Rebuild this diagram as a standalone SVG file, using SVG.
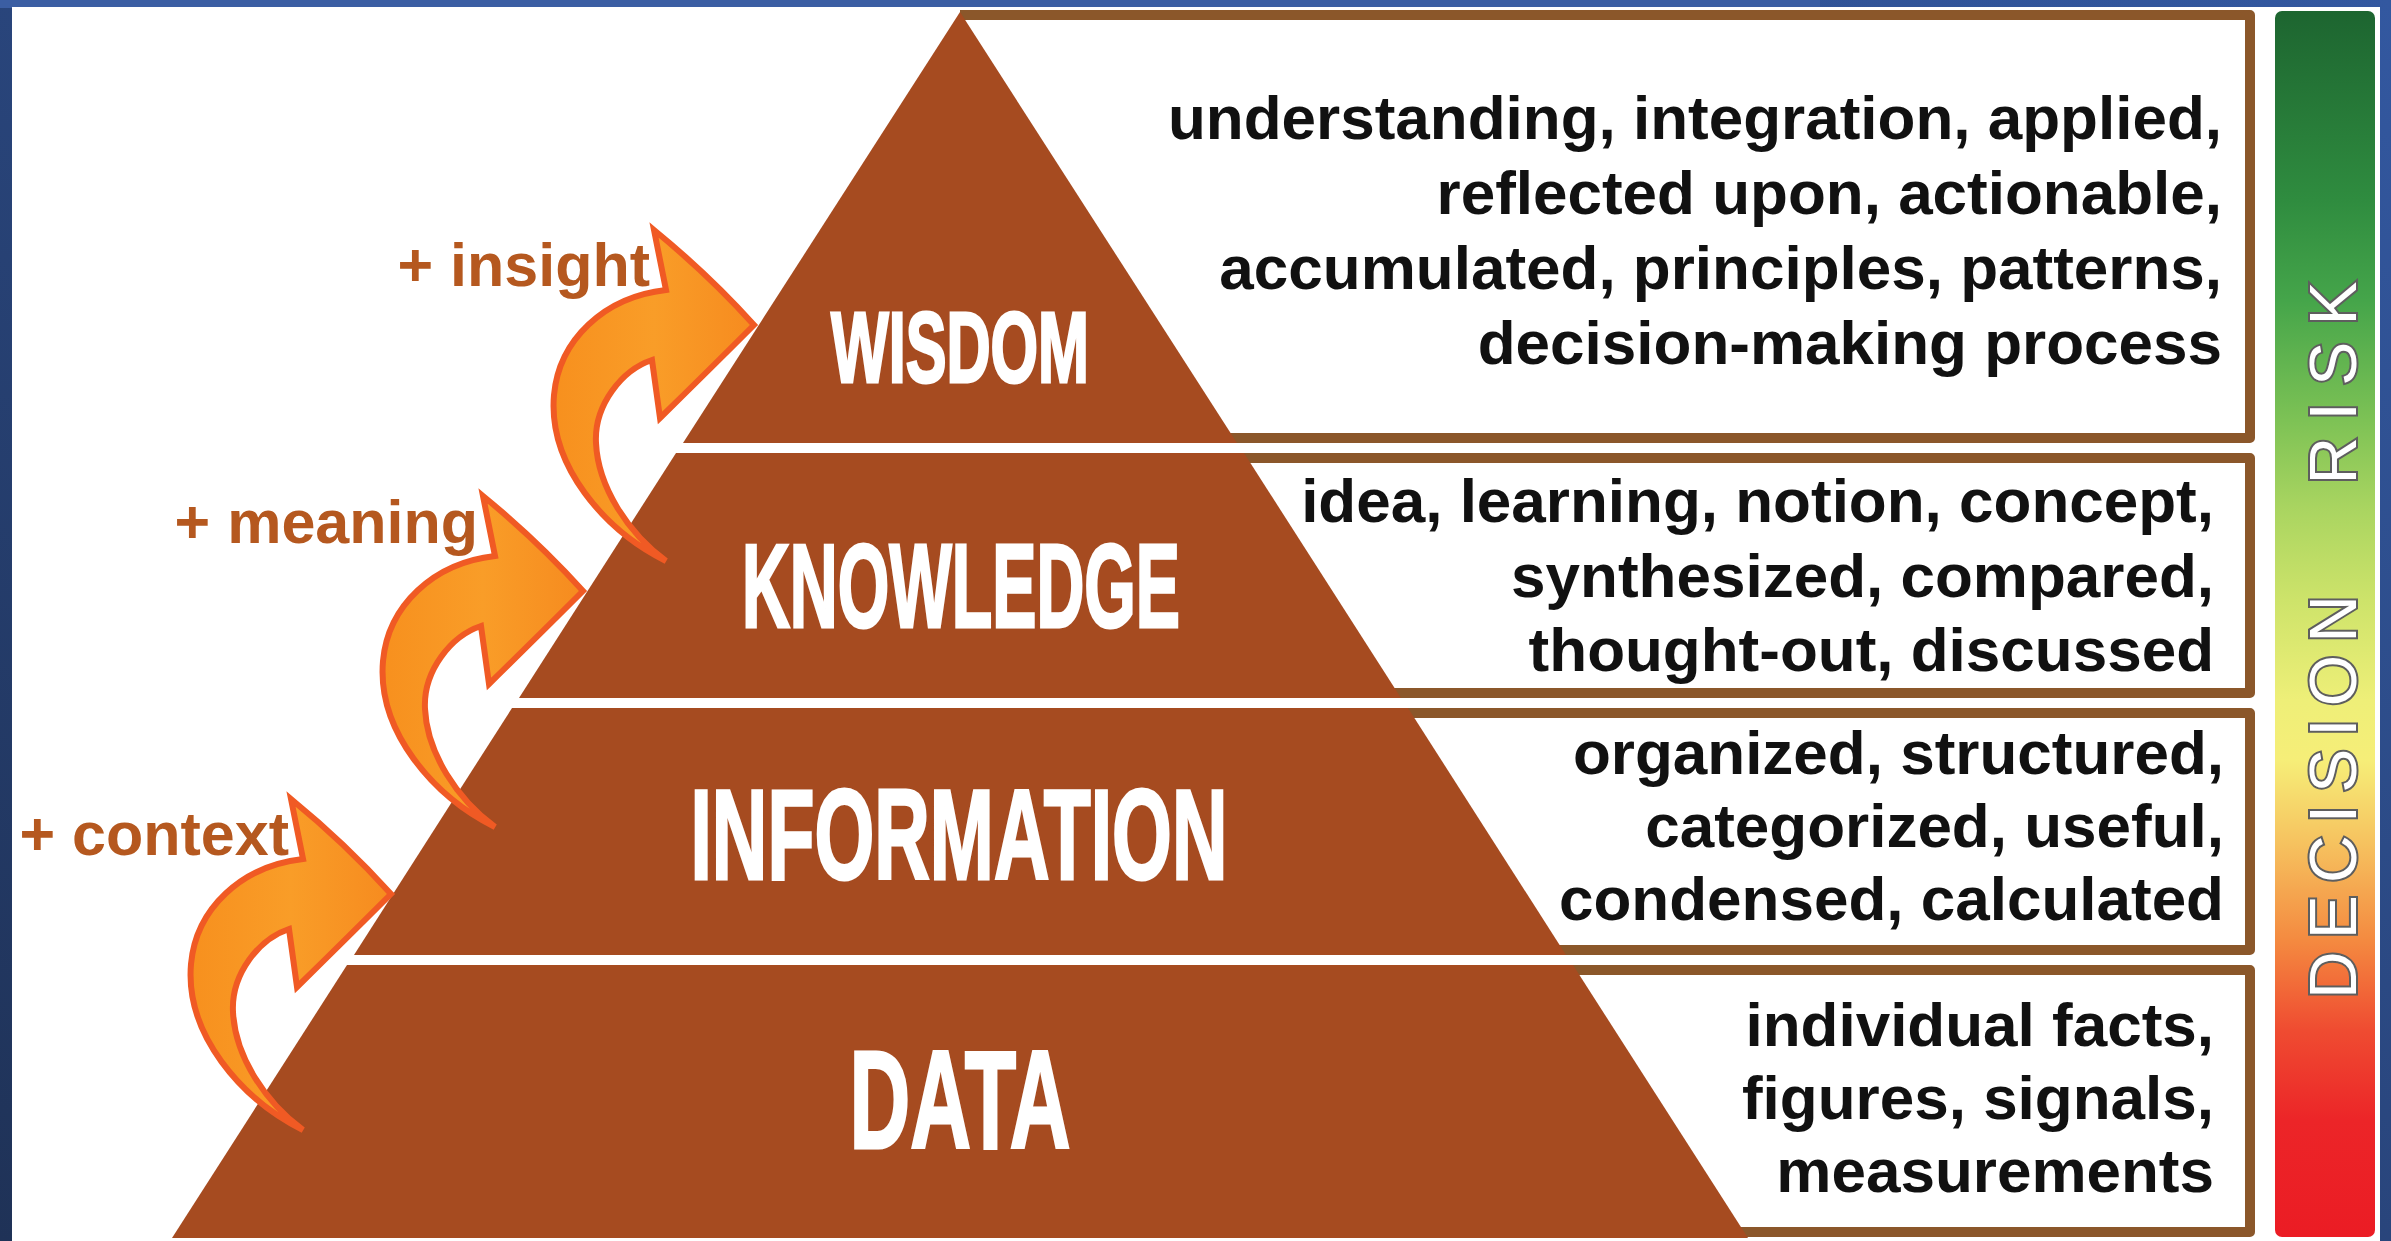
<svg xmlns="http://www.w3.org/2000/svg" xmlns:xlink="http://www.w3.org/1999/xlink" width="2391" height="1241" viewBox="0 0 2391 1241">
  <defs>
    <linearGradient id="bg" x1="1" y1="0" x2="0" y2="1">
      <stop offset="0" stop-color="#3358a0"/>
      <stop offset="1" stop-color="#1f3257"/>
    </linearGradient>
    <linearGradient id="risk" x1="0" y1="0" x2="0" y2="1">
      <stop offset="0" stop-color="#1d6530"/>
      <stop offset="0.154" stop-color="#2f8c3f"/>
      <stop offset="0.236" stop-color="#45a54a"/>
      <stop offset="0.334" stop-color="#7dc255"/>
      <stop offset="0.403" stop-color="#a8d460"/>
      <stop offset="0.48" stop-color="#cde36a"/>
      <stop offset="0.562" stop-color="#eeef78"/>
      <stop offset="0.611" stop-color="#f6ee78"/>
      <stop offset="0.676" stop-color="#f6c460"/>
      <stop offset="0.758" stop-color="#f48a40"/>
      <stop offset="0.831" stop-color="#ef4c31"/>
      <stop offset="0.905" stop-color="#ec2528"/>
      <stop offset="1" stop-color="#eb1c24"/>
    </linearGradient>
    <linearGradient id="arrowFill" x1="0" y1="0" x2="1" y2="0">
      <stop offset="0" stop-color="#f7901e"/>
      <stop offset="0.5" stop-color="#f99d28"/>
      <stop offset="1" stop-color="#f68b1f"/>
    </linearGradient>
    <path id="arw" d="M -88,236 C -150,205 -206,140 -200,70 C -195,15 -150,-28 -88,-35 L -100,-95 Q -45,-50 0,0 Q -45,45 -94,93 L -102,35 C -132,45 -160,80 -158,118 C -156,162 -126,208 -88,236 Z"/>
  </defs>
  <style>
    .layer { fill: #a64b20; }
    .panel { fill: #ffffff; stroke: #8b572a; stroke-width: 10; stroke-linejoin: round; }
    .title { font-family: "Liberation Sans", Arial, sans-serif; font-weight: bold; fill: #ffffff; stroke: #ffffff; stroke-width: 3; text-anchor: middle; }
    .desc { font-family: "Liberation Sans", Arial, sans-serif; font-weight: bold; font-size: 62px; fill: #111111; text-anchor: end; }
    .lbl { font-family: "Liberation Sans", Arial, sans-serif; font-weight: bold; font-size: 61px; fill: #b5581f; text-anchor: end; }
    .arrow { fill: url(#arrowFill); stroke: #f05a24; stroke-width: 6; stroke-linejoin: miter; stroke-miterlimit: 10; }
    .risk { font-family: "Liberation Sans", Arial, sans-serif; font-size: 66px; fill: #ffffff; stroke: #5e5e5e; stroke-width: 4; paint-order: stroke; text-anchor: middle; }
  </style>

  <!-- frame -->
  <rect x="0" y="0" width="2391" height="1241" fill="url(#bg)"/>
  <rect x="0" y="0" width="1820" height="8" fill="#3b5ea3"/>
  <rect x="12" y="7" width="2368" height="1234" fill="#ffffff"/>

  <!-- description panels -->
  <g id="panel-wisdom"><path class="panel" d="M 960,15 H 2250 V 438 H 960"/></g>
  <g id="panel-knowledge"><path class="panel" d="M 960,458 H 2250 V 693 H 960"/></g>
  <g id="panel-information"><path class="panel" d="M 960,713 H 2250 V 950 H 960"/></g>
  <g id="panel-data"><path class="panel" d="M 960,970 H 2250 V 1232 H 960"/></g>

  <!-- pyramid layers -->
  <g id="wisdom">
    <polygon class="layer" points="960,12 1237,443 683,443"/>
    <text class="title" x="960" y="382" font-size="100" textLength="258" lengthAdjust="spacingAndGlyphs">WISDOM</text>
  </g>
  <g id="knowledge">
    <polygon class="layer" points="676,453 1244,453 1401,698 519,698"/>
    <text class="title" x="961" y="627" font-size="118" textLength="438" lengthAdjust="spacingAndGlyphs">KNOWLEDGE</text>
  </g>
  <g id="information">
    <polygon class="layer" points="512,708 1408,708 1566,955 354,955"/>
    <text class="title" x="959" y="879" font-size="128" textLength="537" lengthAdjust="spacingAndGlyphs">INFORMATION</text>
  </g>
  <g id="data">
    <polygon class="layer" points="347,965 1573,965 1748,1238 172,1238"/>
    <text class="title" x="960" y="1148" font-size="140" textLength="221" lengthAdjust="spacingAndGlyphs">DATA</text>
  </g>

  <!-- description texts -->
  <g id="desc-wisdom">
    <text class="desc" x="2222" y="139">understanding, integration, applied,</text>
    <text class="desc" x="2222" y="214">reflected upon, actionable,</text>
    <text class="desc" x="2222" y="289">accumulated, principles, patterns,</text>
    <text class="desc" x="2222" y="364">decision-making process</text>
  </g>
  <g id="desc-knowledge">
    <text class="desc" x="2214" y="522">idea, learning, notion, concept,</text>
    <text class="desc" x="2214" y="597">synthesized, compared,</text>
    <text class="desc" x="2214" y="671">thought-out, discussed</text>
  </g>
  <g id="desc-information">
    <text class="desc" x="2224" y="774">organized, structured,</text>
    <text class="desc" x="2224" y="847">categorized, useful,</text>
    <text class="desc" x="2224" y="920">condensed, calculated</text>
  </g>
  <g id="desc-data">
    <text class="desc" x="2214" y="1046">individual facts,</text>
    <text class="desc" x="2214" y="1119">figures, signals,</text>
    <text class="desc" x="2214" y="1192">measurements</text>
  </g>

  <!-- connectors: curved arrows -->
  <g id="connectors">
    <use xlink:href="#arw" href="#arw" class="arrow" transform="translate(754,325)"/>
    <use xlink:href="#arw" href="#arw" class="arrow" transform="translate(583,591)"/>
    <use xlink:href="#arw" href="#arw" class="arrow" transform="translate(391,894)"/>
  </g>

  <!-- arrow labels -->
  <g id="label-insight"><text class="lbl" x="650" y="286">+ insight</text></g>
  <g id="label-meaning"><text class="lbl" x="478" y="543">+ meaning</text></g>
  <g id="label-context"><text class="lbl" x="289" y="855">+ context</text></g>

  <!-- decision risk bar -->
  <g id="decision-risk">
    <rect x="2275" y="11" width="100" height="1226" rx="7" fill="url(#risk)"/>
    <text class="risk" transform="translate(2356,797) rotate(-90)" x="0" y="0" textLength="404" lengthAdjust="spacing">DECISION</text>
    <text class="risk" transform="translate(2356,383) rotate(-90)" x="0" y="0" textLength="203" lengthAdjust="spacing">RISK</text>
  </g>
</svg>
